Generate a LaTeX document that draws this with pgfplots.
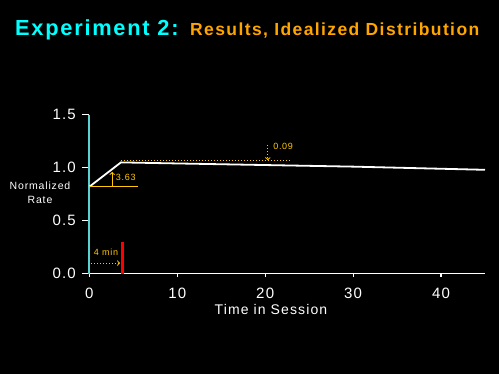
\documentclass[border=0pt]{standalone}
\usepackage{fontspec}
\setmainfont{Liberation Sans}[LetterSpace=8]
\usepackage{pgfplots}
\pgfplotsset{compat=1.18}
\definecolor{tcyan}{RGB}{0,255,255}
\definecolor{torange}{RGB}{255,165,0}
\definecolor{tyel}{RGB}{255,200,0}
\definecolor{axcyan}{RGB}{90,210,210}
\begin{document}
\begin{tikzpicture}[x=1pt,y=1pt]
\fill[black] (0,0) rectangle (499,374);
\useasboundingbox (0,0) rectangle (499,374);
\node[anchor=base west,inner sep=0pt,text=tcyan,font=\fontsize{21.8}{24}\selectfont\bfseries] at (15,338) {Experiment 2:};
\node[anchor=base west,inner sep=0pt,text=torange,font=\fontsize{17.5}{20}\selectfont\bfseries] at (190,338) {Results, Idealized Distribution};
\node[align=center,text=white,font=\fontsize{10.5}{14}\selectfont,inner sep=0pt] at (40,181) {Normalized\\Rate};
\node[text=white,font=\fontsize{14}{16}\selectfont,anchor=base,inner sep=0pt] at (271,59) {Time in Session};
\begin{axis}[
  at={(89.3pt,100.3pt)}, anchor=origin,
  scale only axis, width=395.7pt, height=159pt,
  xmin=0, xmax=45, ymin=0, ymax=1.5,
  axis x line=bottom, axis y line=left,
  axis line style={-, line width=1.6pt},
  x axis line style={white},
  y axis line style={axcyan},
  xtick={0,10,20,30,40}, ytick={0,0.5,1.0,1.5},
  /pgf/number format/assume math mode=true,
  yticklabel style={/pgf/number format/fixed, /pgf/number format/fixed zerofill, /pgf/number format/precision=1, xshift=-3pt},
  tick align=outside,
  major tick length=7pt,
  xtick style={white, line width=1.2pt, /pgfplots/major tick length=3pt},
  ytick style={white, line width=1.6pt},
  ticklabel style={text=white, font=\fontsize{15}{17}\selectfont},
  xticklabel style={yshift=-4pt},
  clip=false,
]
\addplot[white, line width=1.8pt] coordinates {(0,0.82) (3.6,1.05) (10,1.04) (20,1.025) (30,1.01) (45,0.98)};
\addplot[tyel, line width=1pt] coordinates {(0,0.82) (5.5,0.82)};
\addplot[red, line width=2.5pt] coordinates {(3.8,0) (3.8,0.3)};
\addplot[tyel, dotted, line width=1pt] coordinates {(3.6,1.065) (23,1.065)};
\draw[tyel, line width=1pt, ->] (axis cs:2.6,0.82) -- (axis cs:2.6,0.96);
\node[text=tyel, anchor=west, inner sep=0pt, font=\fontsize{9}{10}\selectfont] at (axis cs:3.0,0.905) {3.63};
\draw[tyel, dotted, line width=1pt, ->] (axis cs:20.3,1.21) -- (axis cs:20.3,1.07);
\node[text=tyel, anchor=west, inner sep=0pt, font=\fontsize{9}{10}\selectfont] at (axis cs:20.9,1.2) {0.09};
\draw[tyel, dotted, line width=1pt, ->] (axis cs:0.2,0.1) -- (axis cs:3.5,0.1);
\node[text=tyel, inner sep=0pt, font=\fontsize{9}{10}\selectfont] at (axis cs:1.9,0.2) {4 min};
\end{axis}
\end{tikzpicture}
\end{document}
